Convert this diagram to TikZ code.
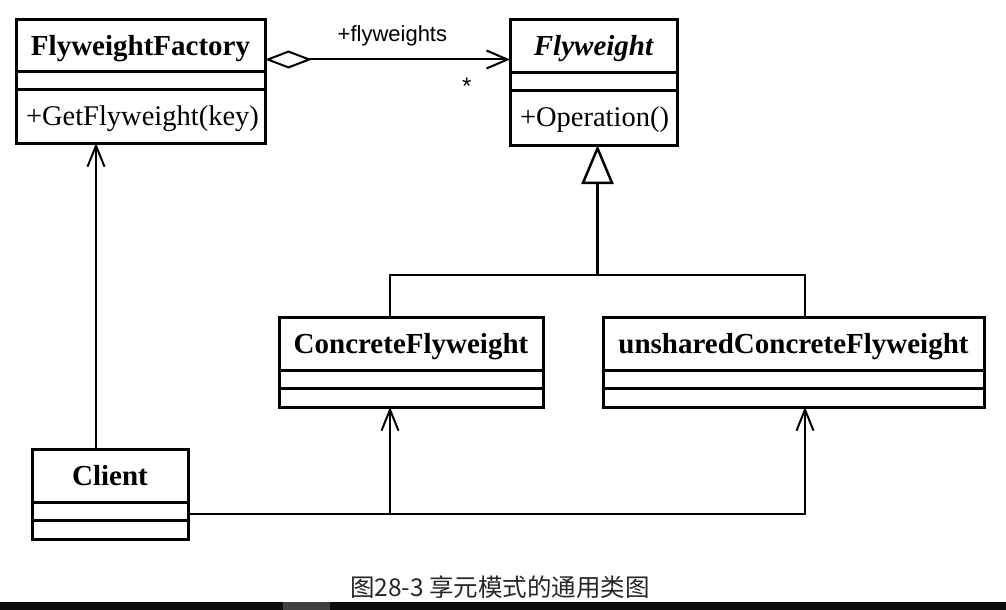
\documentclass[tikz,border=0pt]{standalone}
\usepackage{fontspec}
\setmainfont{Liberation Serif}
\setsansfont{Liberation Sans}
\newfontfamily\cjk{Noto Sans CJK SC}
\usetikzlibrary{arrows.meta,positioning}

\tikzset{
  cname/.style={draw, line width=3pt, outer sep=0pt, inner sep=0pt, minimum height=53pt,
    font=\fontsize{29}{34}\selectfont\bfseries, text height=19.2pt, text depth=0pt},
  cattr/.style={draw, line width=3pt, outer sep=0pt, inner sep=0pt, minimum height=18pt},
  cops/.style={draw, line width=3pt, outer sep=0pt, inner xsep=10pt, inner ysep=0pt,
    minimum height=19pt, align=left, font=\fontsize{28.5}{34}\selectfont,
    text height=18.9pt, text depth=0pt},
  dep/.style={line width=2pt, -{Straight Barb[length=21pt,width=17pt]}},
  gen/.style={line width=2.5pt, -{Triangle[open,length=39pt,width=32pt]}},
  agg/.style={line width=2pt, {Diamond[open,length=47pt,width=18pt]}-{Straight Barb[length=21pt,width=18pt]}},
}

\begin{document}
\begin{tikzpicture}[x=1pt,y=-1pt]
\useasboundingbox (0,0) rectangle (1006,610);

% classes
\node[cname, minimum width=249pt, minimum height=51pt, anchor=north west] (factory) at (16,20) {FlyweightFactory};
\node[cattr, minimum width=249pt, below=0pt of factory] (factoryattr) {};
\node[cops, minimum height=54pt, text width=229pt, below=0pt of factoryattr] (factoryops) {+GetFlyweight(key)};

\node[cname, minimum width=167pt, minimum height=52pt, anchor=north west] (fly) at (510,20) {\itshape Flyweight};
\node[cattr, minimum width=167pt, below=0pt of fly] (flyattr) {};
\node[cops, minimum height=55pt, text width=147pt, below=0pt of flyattr] (flyops) {+Operation()};

\node[cname, minimum width=264pt, anchor=north west] (concrete) at (279,317) {ConcreteFlyweight};
\node[cattr, minimum width=264pt, below=0pt of concrete] (concreteattr) {};
\node[cattr, minimum width=264pt, minimum height=19pt, below=0pt of concreteattr] (concreteops) {};

\node[cname, minimum width=381pt, anchor=north west] (unshared) at (603,317) {unsharedConcreteFlyweight};
\node[cattr, minimum width=381pt, below=0pt of unshared] (unsharedattr) {};
\node[cattr, minimum width=381pt, minimum height=19pt, below=0pt of unsharedattr] (unsharedops) {};

\node[cname, minimum width=156pt, anchor=north west] (client) at (32,449) {Client};
\node[cattr, minimum width=156pt, below=0pt of client] (clientattr) {};
\node[cattr, minimum width=156pt, minimum height=19pt, below=0pt of clientattr] (clientops) {};

% aggregation
\coordinate (aggstart) at ([yshift=-14pt]factory.east);
\draw[agg] (aggstart) -- node[pos=.52, above=9pt, font=\sffamily\fontsize{22}{26}\selectfont] (role) {+flyweights}
  node[pos=.824, below=14pt, font=\sffamily\fontsize{24}{26}\selectfont] (mult) {*}
  (aggstart -| fly.west);

% generalization
\coordinate (cftop) at ([xshift=-21pt]concrete.north);
\coordinate (uftop) at ([xshift=11.5pt]unshared.north);
\coordinate (bus) at ([yshift=42pt]cftop);
\coordinate (flyfoot) at ([xshift=4pt]flyops.south);
\draw[line width=2.5pt] (cftop) -- (bus) -| (uftop);
\draw[gen] (bus -| flyfoot) -- (flyfoot);

% dependencies from client
\draw[dep] ([xshift=-14pt]client.north) -- ([xshift=-14pt]client.north |- factoryops.south);
\coordinate (cjoin) at ([yshift=-3pt]clientattr.east);
\draw[dep] (cjoin) -| ([xshift=11.5pt]unsharedops.south);
\draw[dep] (cjoin -| cftop) -- ([xshift=-21pt]concreteops.south);

% caption and bottom strip
\node[anchor=base, text=black!85, font=\cjk\fontsize{24.5}{28}\selectfont] (caption) at (500,596) {图28-3 享元模式的通用类图};
\fill[black!95] (0,602) rectangle (1006,610);
\fill[black!75] (283,602) rectangle (330,610);
\end{tikzpicture}
\end{document}
